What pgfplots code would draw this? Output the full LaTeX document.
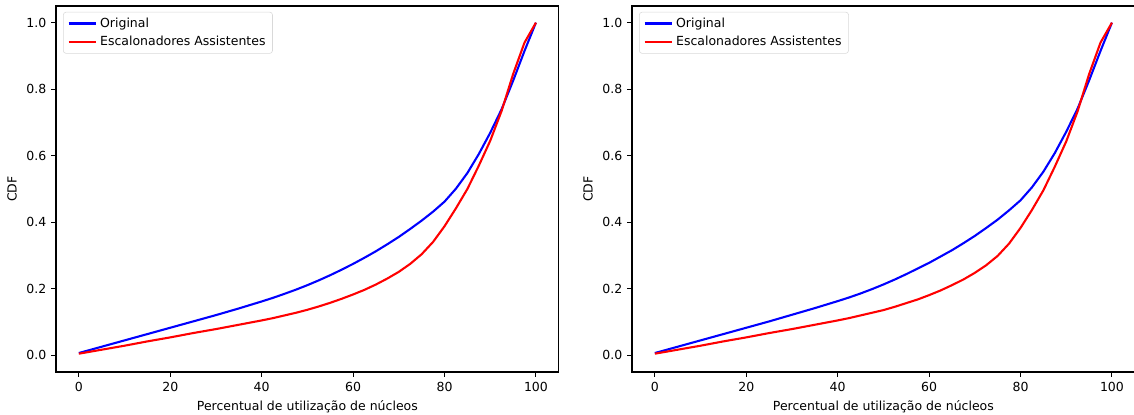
\documentclass[border=0pt]{standalone}
\usepackage{fontspec}
\setmainfont{DejaVu Sans}
\usepackage{pgfplots}
\pgfplotsset{compat=1.18}

\pgfplotsset{
  cdfpanel/.style={
    width=362pt, height=263.5pt,
    scale only axis,
    xmin=-5, xmax=105,
    ymin=-0.05, ymax=1.05,
    xtick={0,20,40,60,80,100},
    ytick={0,0.2,0.4,0.6,0.8,1.0},
    yticklabel style={/pgf/number format/fixed,/pgf/number format/fixed zerofill,/pgf/number format/precision=1},
    /pgf/number format/assume math mode=true,
    tick align=outside,
    xtick pos=left, ytick pos=left,
    major tick length=3.5pt,
    tick style={black, line width=0.8pt},
    axis line style={line width=0.8pt},
    ticklabel style={font=\fontsize{9}{11}\selectfont},
    label style={font=\fontsize{9}{11}\selectfont},
    xlabel={Percentual de utilização de núcleos},
    ylabel={CDF},
    legend style={at={(0.014,0.984)}, anchor=north west,
      draw=black!15, rounded corners=2pt, fill=white,
      font=\fontsize{9}{11}\selectfont, row sep=1pt,
      inner xsep=3pt, inner ysep=2pt},
    legend cell align=left,
    legend image code/.code={\draw[#1] (0pt,0pt) -- (20pt,0pt);},
    every axis plot/.append style={line width=1.5pt, line join=round},
  }
}

\begin{document}
\begin{tikzpicture}
\path[use as bounding box] (-40.32pt,-30.96pt) rectangle (776.16pt,267.84pt);
\begin{axis}[cdfpanel, at={(0pt,0pt)}]
\addplot[blue] coordinates {
  (0,0.007) (2.5,0.0165) (5,0.026) (7.5,0.0355) (10,0.045) (12.5,0.0545)
  (15,0.064) (17.5,0.0735) (20,0.083) (22.5,0.0925) (25,0.102) (27.5,0.1115)
  (30,0.121) (32.5,0.131) (35,0.141) (37.5,0.1515) (40,0.162) (42.5,0.173)
  (45,0.185) (47.5,0.1975) (50,0.211) (52.5,0.2255) (55,0.241) (57.5,0.2575)
  (60,0.275) (62.5,0.2935) (65,0.313) (67.5,0.334) (70,0.356) (72.5,0.380)
  (75,0.405) (77.5,0.432) (80,0.462) (82.5,0.501) (85,0.548) (87.5,0.605)
  (90,0.669) (92.5,0.740) (95,0.825) (97.5,0.915) (100,1.0)
};
\addlegendentry{Original}
\addplot[red] coordinates {
  (0,0.005) (2.5,0.011) (5,0.017) (7.5,0.023) (10,0.029) (12.5,0.0355)
  (15,0.042) (17.5,0.048) (20,0.054) (22.5,0.0605) (25,0.067) (27.5,0.073)
  (30,0.079) (32.5,0.0855) (35,0.092) (37.5,0.0985) (40,0.105) (42.5,0.112)
  (45,0.120) (47.5,0.128) (50,0.137) (52.5,0.147) (55,0.158) (57.5,0.170)
  (60,0.183) (62.5,0.197) (65,0.213) (67.5,0.231) (70,0.251) (72.5,0.275)
  (75,0.304) (77.5,0.341) (80,0.388) (82.5,0.442) (85,0.500) (87.5,0.570)
  (90,0.645) (92.5,0.735) (95,0.845) (97.5,0.940) (100,1.0)
};
\addlegendentry{Escalonadores Assistentes}
\end{axis}
\begin{axis}[cdfpanel, at={(414.72pt,0pt)}]
\addplot[blue] coordinates {
  (0,0.007) (2.5,0.0165) (5,0.026) (7.5,0.0355) (10,0.045) (12.5,0.0545)
  (15,0.064) (17.5,0.0735) (20,0.083) (22.5,0.0925) (25,0.102) (27.5,0.112)
  (30,0.122) (32.5,0.132) (35,0.142) (37.5,0.1525) (40,0.163) (42.5,0.174)
  (45,0.186) (47.5,0.199) (50,0.213) (52.5,0.228) (55,0.244) (57.5,0.261)
  (60,0.278) (62.5,0.297) (65,0.316) (67.5,0.337) (70,0.359) (72.5,0.383)
  (75,0.408) (77.5,0.436) (80,0.466) (82.5,0.505) (85,0.552) (87.5,0.608)
  (90,0.672) (92.5,0.742) (95,0.826) (97.5,0.915) (100,1.0)
};
\addlegendentry{Original}
\addplot[red] coordinates {
  (0,0.005) (2.5,0.011) (5,0.017) (7.5,0.023) (10,0.029) (12.5,0.0355)
  (15,0.042) (17.5,0.048) (20,0.054) (22.5,0.0605) (25,0.067) (27.5,0.073)
  (30,0.079) (32.5,0.0855) (35,0.092) (37.5,0.0985) (40,0.105) (42.5,0.112)
  (45,0.120) (47.5,0.128) (50,0.136) (52.5,0.146) (55,0.157) (57.5,0.168)
  (60,0.181) (62.5,0.195) (65,0.211) (67.5,0.228) (70,0.248) (72.5,0.271)
  (75,0.299) (77.5,0.336) (80,0.383) (82.5,0.437) (85,0.496) (87.5,0.567)
  (90,0.643) (92.5,0.734) (95,0.845) (97.5,0.940) (100,1.0)
};
\addlegendentry{Escalonadores Assistentes}
\end{axis}
\end{tikzpicture}
\end{document}
